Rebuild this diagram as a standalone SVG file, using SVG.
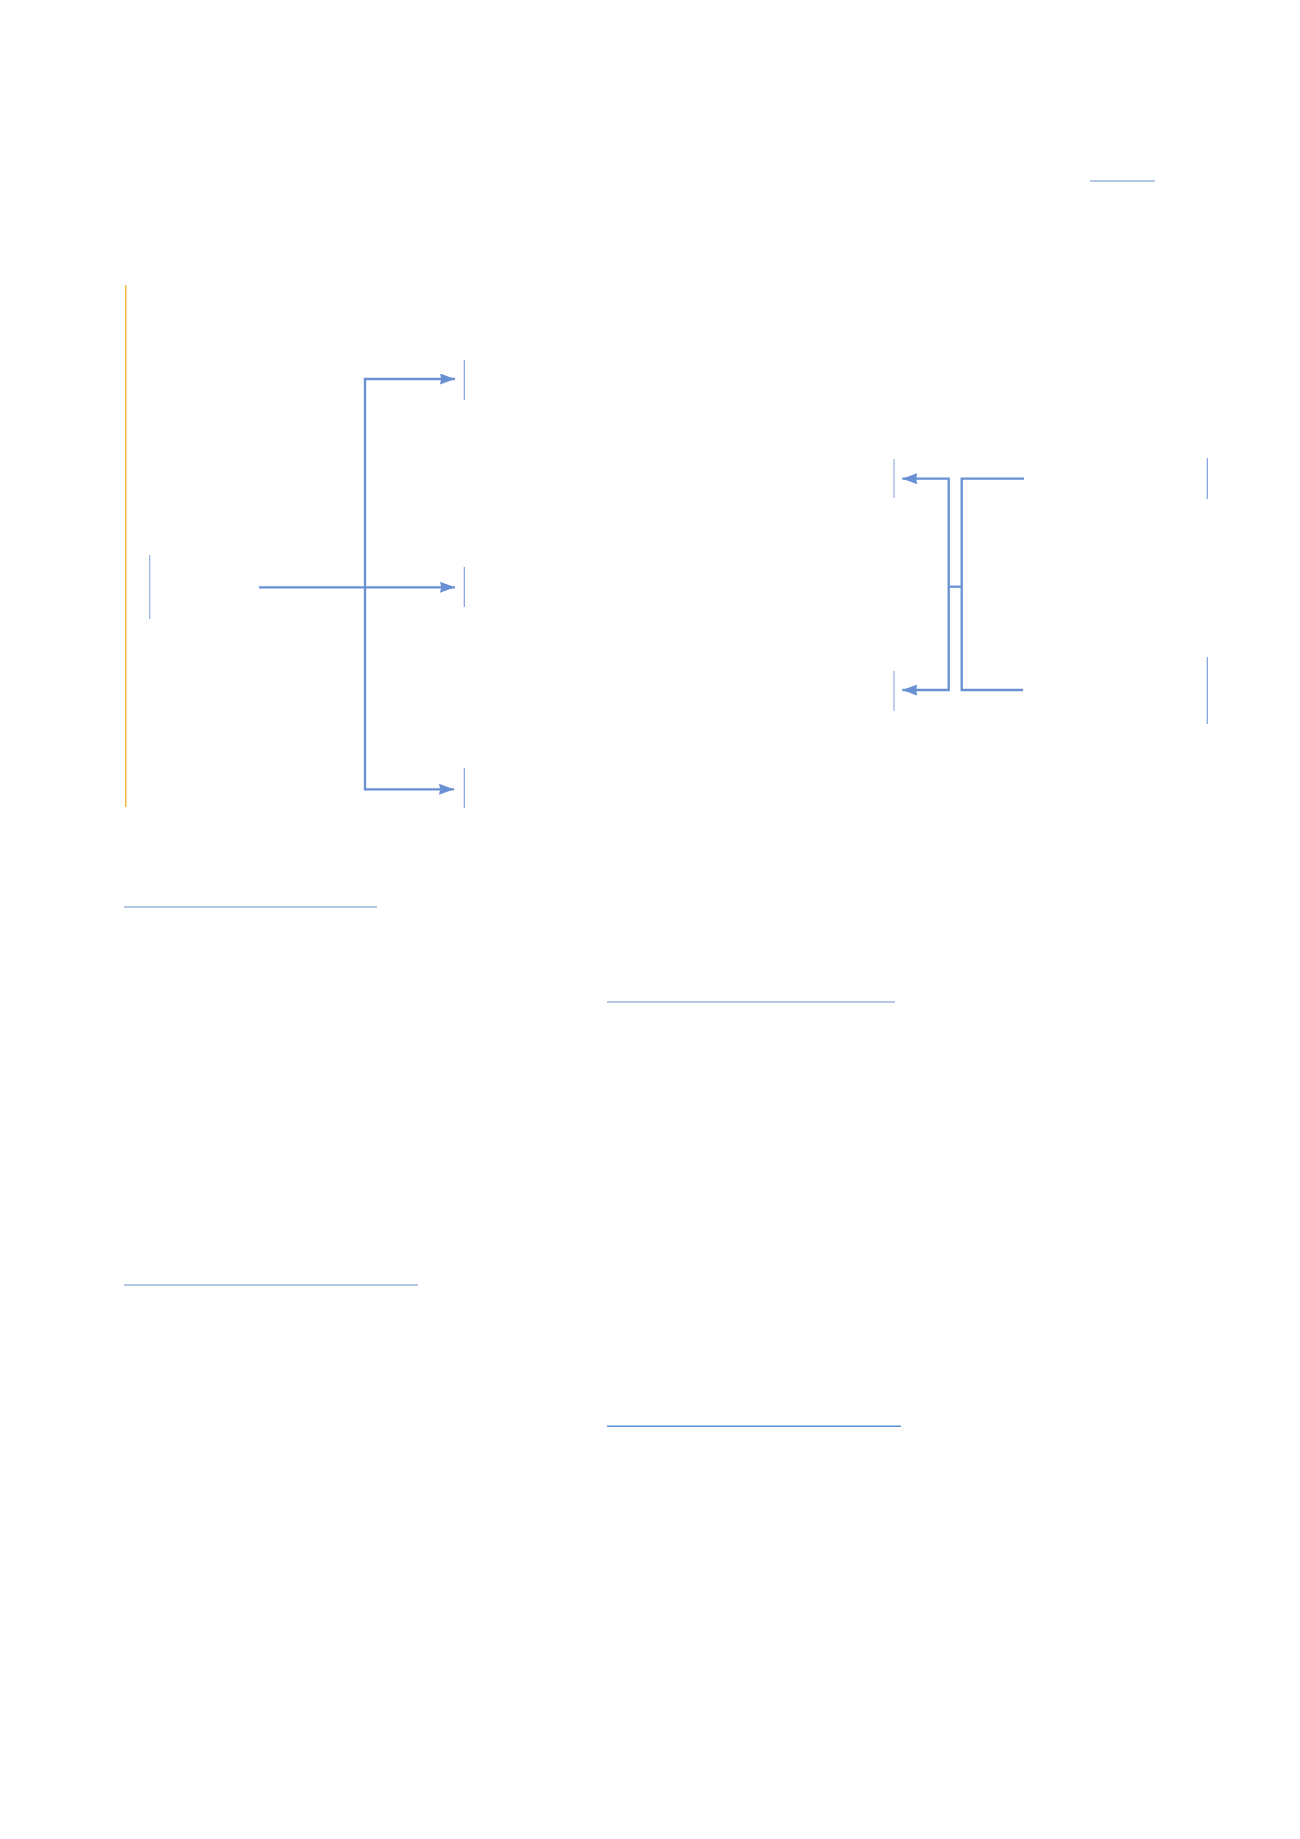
<svg xmlns="http://www.w3.org/2000/svg" width="1300" height="1839" viewBox="0 0 1300 1839">
  <style>
    .bg { fill: #ffffff; }
    .edge { fill: none; stroke: #6890d2; stroke-width: 2.3; }
    .tick { fill: none; stroke: #7d9fda; stroke-width: 1.2; }
    .tickl { fill: none; stroke: #94b1e3; stroke-width: 1.2; }
    .rule { fill: none; stroke: #6a90d0; stroke-width: 1.2; }
    .rule2 { fill: none; stroke: #5b8fd9; stroke-width: 1.4; }
    .soft { fill: none; stroke: #b4c7e7; stroke-width: 2; }
    .accent { fill: none; stroke: #f5b942; stroke-width: 1.5; }
  </style>
  <defs>
    <marker id="arrow" viewBox="0 0 15 11" refX="15" refY="5.5" markerWidth="15" markerHeight="11" markerUnits="userSpaceOnUse" orient="auto">
      <path d="M0,0 L15,5.5 L0,11 L1.2,5.5 z" fill="#6890d2"/>
    </marker>
  </defs>
  <rect class="bg" x="0" y="0" width="1300" height="1839"/>

  <g id="title-rule"><line class="soft" x1="1090" y1="181" x2="1155" y2="181"/></g>
  <g id="left-accent"><line class="accent" x1="125.7" y1="285" x2="125.7" y2="807"/></g>

  <g id="src-left"><line class="tickl" x1="149.7" y1="555" x2="149.7" y2="619"/></g>
  <g id="tgt-top"><line class="tick" x1="464.3" y1="360" x2="464.3" y2="400"/></g>
  <g id="tgt-mid"><line class="tick" x1="464.3" y1="567" x2="464.3" y2="607"/></g>
  <g id="tgt-bot"><line class="tick" x1="464.3" y1="768" x2="464.3" y2="808"/></g>

  <g id="right-tgt-top"><line class="tickl" x1="894" y1="459" x2="894" y2="498"/></g>
  <g id="right-tgt-bot"><line class="tickl" x1="894" y1="671" x2="894" y2="711"/></g>
  <g id="right-src-top"><line class="tick" x1="1207.3" y1="458" x2="1207.3" y2="499"/></g>
  <g id="right-src-bot"><line class="tick" x1="1207.3" y1="657" x2="1207.3" y2="724"/></g>

  <g id="rule-1"><line class="rule" x1="124" y1="907" x2="377" y2="907"/></g>
  <g id="rule-2"><line class="soft" x1="607" y1="1002" x2="895" y2="1002"/></g>
  <g id="rule-3"><line class="soft" x1="124" y1="1285" x2="418" y2="1285"/></g>
  <g id="rule-4"><line class="rule2" x1="607" y1="1426.3" x2="901" y2="1426.3"/></g>

  <g id="connectors">
    <path class="edge" d="M259,587.3 H455" marker-end="url(#arrow)"/>
    <path class="edge" d="M365,587.3 V379 H455" marker-end="url(#arrow)"/>
    <path class="edge" d="M365,587.3 V789.3 H454" marker-end="url(#arrow)"/>

    <path class="edge" d="M948.7,586.7 V478.7 H902.3" marker-end="url(#arrow)"/>
    <path class="edge" d="M948.7,586.7 V690 H902.3" marker-end="url(#arrow)"/>
    <path class="edge" d="M1024,478.7 H961.7 V690 H1023"/>
    <path class="edge" d="M948.7,586.7 H961.7"/>
  </g>
</svg>
